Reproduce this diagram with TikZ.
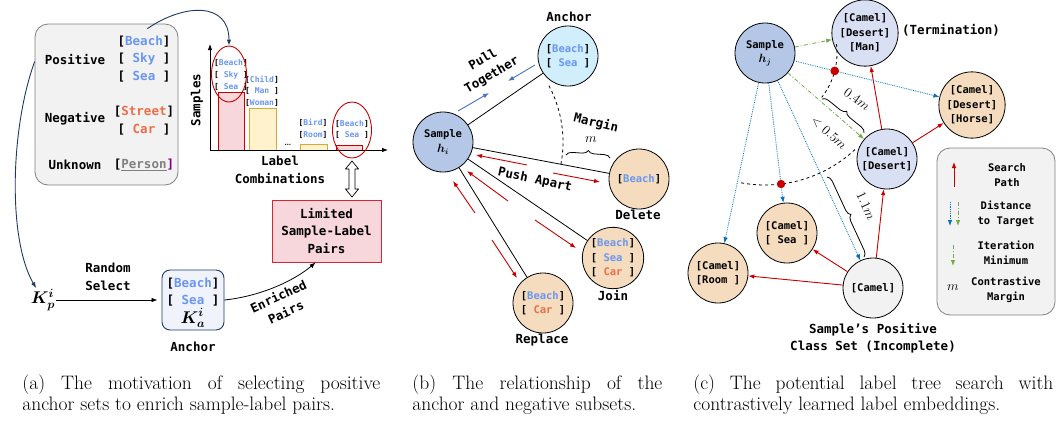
\RequirePackage{fix-cm}
\documentclass[tikz,border=0pt]{standalone}
\usepackage{fontspec}
\usepackage{bm}
\setmonofont{DejaVu Sans Mono}
\usetikzlibrary{arrows.meta,calc,shapes.geometric,decorations.pathreplacing,intersections}

\definecolor{lblue}{RGB}{105,150,240}
\definecolor{lorange}{RGB}{235,110,70}
\definecolor{navy}{RGB}{32,56,100}
\definecolor{smpfill}{RGB}{180,199,231}
\definecolor{ancfill}{RGB}{208,238,252}
\definecolor{wheat}{RGB}{246,220,190}
\definecolor{lav}{RGB}{218,224,243}
\definecolor{boxgray}{RGB}{242,242,242}
\definecolor{srch}{RGB}{200,0,0}
\definecolor{dist}{RGB}{0,112,192}
\definecolor{itgreen}{RGB}{112,173,71}
\definecolor{pinkfill}{RGB}{248,215,220}
\definecolor{pinkline}{RGB}{210,40,50}
\definecolor{yelfill}{RGB}{255,242,204}
\definecolor{yelline}{RGB}{214,168,52}
\definecolor{pullblue}{RGB}{68,114,196}
\definecolor{aboxfill}{RGB}{240,242,252}

\newcommand{\pl}[1]{[\textcolor{lblue}{#1}]}
\newcommand{\nl}[1]{[\textcolor{lorange}{#1}]}
\newcommand{\tg}[1]{[#1]}

\tikzset{
  bigtxt/.style={font=\ttfamily\bfseries\fontsize{12.5}{17.5}\selectfont, align=center, inner sep=1pt},
  midtxt/.style={font=\ttfamily\bfseries\fontsize{10.5}{14.5}\selectfont, align=center, inner sep=1pt},
  tinytxt/.style={font=\ttfamily\bfseries\fontsize{8}{11.7}\selectfont, align=center, inner sep=0pt},
  mathtxt/.style={font=\fontsize{17}{20}\selectfont, inner sep=1pt},
  disttxt/.style={font=\fontsize{13.5}{15}\selectfont, inner sep=1pt},
  capt/.style={font=\fontsize{19.5}{21}\selectfont, inner sep=0pt, anchor=base west},
  graybox/.style={draw=gray, fill=boxgray, rounded corners=13pt, line width=0.8pt},
  cls/.style={circle, draw, line width=0.8pt, minimum size=60pt, inner sep=0pt, midtxt},
  navyarr/.style={navy, line width=0.9pt, ->},
  redbar/.style={draw=srch, fill=pinkfill, line width=0.9pt},
  yelbar/.style={draw=yelline, fill=yelfill, line width=0.9pt},
  pullarr/.style={pullblue, line width=0.9pt, ->},
  pusharr/.style={srch, line width=0.9pt, ->},
  distarr/.style={dist, densely dotted, line width=0.8pt, ->},
  itarr/.style={itgreen, dash pattern=on 4pt off 2pt on 1pt off 2pt, line width=0.8pt, ->},
  brc/.style={decorate, decoration={brace, amplitude=6pt}, line width=0.8pt},
}

\begin{document}
\begin{tikzpicture}[x=1pt, y=-1pt, line width=0.8pt, >={Latex[length=6pt,width=4.5pt]}]
\useasboundingbox (0,0) rectangle (1057,424);

% (a) label sets
\node[graybox, minimum width=143pt, minimum height=161pt] (lbox) at (106.5,104.5) {};
\node[bigtxt] (pos) at (75,60) {Positive};
\node[bigtxt] (posl) at (144,59) {\pl{Beach}\\\pl{~Sky~}\\\pl{~Sea~}};
\node[bigtxt] (neg) at (75,119) {Negative};
\node[bigtxt] (negl) at (144,120.5) {\nl{Street}\\\nl{~Car~}};
\node[bigtxt] (unk) at (75,165) {Unknown};
\node[bigtxt] (unkl) at (144,165) {[\textcolor{gray}{\underline{Person}}\textcolor{violet}{]}};

% (a) bar chart
\coordinate (org) at (210,150);
\draw[redbar] (218,150) rectangle (244,92);
\draw[yelbar] (249,150) rectangle (276,108);
\draw[yelbar] (300,150) rectangle (327,144);
\draw[redbar] (336,150) rectangle (362,145);
\draw[->] (org) -- (210,44);
\draw[->] (org) -- (388,150);
\node[tinytxt] (bone) at (231,75) {\pl{Beach}\\\pl{~Sky~}\\\pl{~Sea~}};
\node[tinytxt] (btwo) at (262,91) {\pl{Child}\\\pl{~Man~}\\\pl{Woman}};
\node[font=\bfseries\fontsize{8}{8}\selectfont] (dots) at (288,145) {\ldots};
\node[tinytxt] (bthree) at (313,129) {\pl{Bird}\\\pl{Room}};
\node[tinytxt] (bfour) at (352,129.5) {\pl{Beach}\\\pl{~Sea~}};
\node[ellipse, draw=srch, line width=0.9pt, minimum width=35pt, minimum height=56pt] (ellone) at (229,74) {};
\node[ellipse, draw=srch, line width=0.9pt, minimum width=39pt, minimum height=56pt] (elltwo) at (352,130) {};
\node[bigtxt, rotate=90] (ylab) at (197,100) {Samples};
\node[bigtxt] (xlab) at (280,170) {Label\\Combinations};
\node[draw=pinkline, fill=pinkfill, line width=0.9pt, minimum width=109pt, minimum height=62pt, bigtxt] (lim) at (326.5,231) {Limited\\Sample-Label\\Pairs};
% hollow double arrow between ellipse and box
\draw[fill=white, line width=0.7pt] (352,161) -- (358.5,169) -- (355,169) -- (355,189) -- (358.5,189)
  -- (352,197) -- (345.5,189) -- (349,189) -- (349,169) -- (345.5,169) -- cycle;

% (a) anchor selection
\node[mathtxt] (kp) at (43,300) {$\bm{K_p^i}$};
\node[bigtxt] (rsel) at (108,277) {Random\\Select};
\node[draw=navy, fill=aboxfill, rounded corners=8pt, minimum width=62pt, minimum height=60pt, line width=0.9pt] (abox) at (193,300) {};
\node[bigtxt] (aboxl) at (193,292) {\pl{Beach}\\\pl{~Sea~}};
\node[mathtxt] (ka) at (193,318) {$\bm{K_a^i}$};
\node[bigtxt] (alab) at (193,347) {Anchor};
\draw[navyarr] ($(lbox.north east)+(-31,5)$) .. controls (185,3) and (229,2) .. (ellone.north);
\draw[navyarr] ($(lbox.north west)+(0,38)$) .. controls (10,130) and (8,240) .. (kp.120);
\draw[->, shorten >=4pt] (kp.east) -- (abox.west);
\draw[->] (abox.east) .. controls (262,296) and (295,280) .. ($(lim.south west)+(44,0)$);
\node[bigtxt, rotate=25] (enr) at (282,304) {Enriched\\Pairs};

% (b) anchor and negatives
\node[cls, fill=smpfill] (smp) at (443,142) {Sample\\{\fontsize{12}{14}\selectfont$\bm{h_i}$}};
\node[cls, fill=ancfill] (anc) at (568,56) {\pl{Beach}\\\pl{~Sea~}};
\node[cls, fill=wheat] (del) at (639,179) {\pl{Beach}};
\node[cls, fill=wheat] (join) at (613,258) {\pl{Beach}\\\pl{~Sea~}\\\nl{~Car~}};
\node[cls, fill=wheat] (repl) at (543,303) {\pl{Beach}\\\nl{~Car~}};
\node[bigtxt] (anclab) at (569,17) {Anchor};
\node[bigtxt] (dellab) at (638,215) {Delete};
\node[bigtxt] (joinlab) at (613,295) {Join};
\node[bigtxt] (repllab) at (542,340) {Replace};
\draw (smp) -- (anc);
\draw (smp) -- (del);
\draw (smp) -- (join);
\draw (smp) -- (repl);
\draw[pullarr] (458,111) -- (489,93);
\draw[pullarr] (535,65) -- (508,81);
\node[bigtxt, rotate=30] (pull) at (487.5,67.5) {Pull\\Together};
\draw[pusharr] (527,165) -- (476,155);
\draw[pusharr] (553,173) -- (600,182);
\draw[pusharr] (508,201) -- (467,171);
\draw[pusharr] (535,220) -- (576,248);
\draw[pusharr] (475,213) -- (453,181);
\draw[pusharr] (492,240) -- (517,278);
\node[bigtxt, rotate=-12] (push) at (535,180) {Push Apart};
\draw[dashed] plot[domain=-28:11, samples=30] ({443+120*cos(\x)},{142+120*sin(\x)});
\draw[brc] (566,155) -- (610,158);
\node[disttxt] (mb) at (591,140) {$m$};
\node[bigtxt, rotate=-13] (marg) at (596,123) {Margin};

% (c) label tree search
\node[cls, fill=smpfill] (smpj) at (765,53) {Sample\\{\fontsize{12}{14}\selectfont$\bm{h_j}$}};
\node[cls, fill=lav] (term) at (865,33) {\tg{Camel}\\\tg{Desert}\\\tg{Man}};
\node[cls, fill=wheat] (horse) at (972,105) {\tg{Camel}\\\tg{Desert}\\\tg{Horse}};
\node[cls, fill=lav] (desert) at (887,159) {\tg{Camel}\\\tg{Desert}};
\node[cls, fill=wheat] (sea) at (787,233) {\tg{Camel}\\\tg{~Sea~}};
\node[cls, fill=wheat] (room) at (718,273) {\tg{Camel}\\\tg{Room~}};
\node[cls, fill=boxgray] (camel) at (873,288) {\tg{Camel}};
\node[bigtxt] (termlab) at (951,30) {(Termination)};
\node[bigtxt] (setlab) at (873,338) {Sample’s Positive\\Class Set (Incomplete)};
\draw[dashed, name path=arcone] plot[domain=-7:38, samples=30] ({765+72*cos(\x)},{53+72*sin(\x)});
\draw[dashed, name path=arctwo] plot[domain=47:101, samples=40] ({765+132*cos(\x)},{53+132*sin(\x)});
\draw[pusharr] (camel) -- (room);
\draw[pusharr] (camel) -- (sea);
\draw[pusharr] (camel) -- (desert);
\draw[pusharr] (desert) -- (term);
\draw[pusharr] (desert) -- (horse);
\draw[distarr, name path=lhorse] (smpj.-15) -- (horse);
\draw[distarr, name path=lroom] (smpj) -- (room);
\draw[distarr, name path=lsea] (smpj) -- (sea);
\draw[distarr] (smpj) -- (camel);
\draw[itarr] (smpj) -- (term);
\draw[itarr] (smpj) -- (desert);
\fill[srch, name intersections={of=arcone and lhorse, by=dh}] (dh) circle (4.2);
\fill[srch, name intersections={of=arctwo and lroom, by=dr}] (dr) circle (4.2);
\fill[srch, name intersections={of=arctwo and lsea, by=ds}] (ds) circle (4.2);
\draw[brc] (822,99) -- (864,133);
\node[disttxt, rotate=-36] (dfour) at (857,99) {$0.4m$};
\node[disttxt, rotate=-42] (dfive) at (829,133) {$<0.5m$};
\draw[brc] (827,177) -- (864,257);
\node[disttxt, rotate=-65] (delev) at (866,206) {$1.1m$};

% (c) legend
\node[graybox, minimum width=118pt, minimum height=167pt] (leg) at (996,231.5) {};
\draw[pusharr] (954,187) -- (954,162);
\draw[distarr] (950,202) -- (950,226);
\draw[itarr] (958,202) -- (958,226);
\draw[itarr] (953,245) -- (953,266);
\node[disttxt] (legm) at (953,288) {$m$};
\node[midtxt] (legone) at (1007,175) {Search\\Path};
\node[midtxt] (legtwo) at (1006,214) {Distance\\to Target};
\node[midtxt] (legthree) at (1006,253) {Iteration\\Minimum};
\node[midtxt] (legfour) at (1006,290) {Contrastive\\Margin};

% captions
\node[capt] (capaone) at (22,389) {\makebox[358pt][s]{(a) The motivation of selecting positive}};
\node[capt] (capatwo) at (22,410) {anchor sets to enrich sample-label pairs.};
\node[capt] (capbone) at (412,389) {\makebox[250pt][s]{(b) The relationship of the}};
\node[capt] (capbtwo) at (412,410) {anchor and negative subsets.};
\node[capt] (capcone) at (693,389) {\makebox[360pt][s]{(c) The potential label tree search with}};
\node[capt] (capctwo) at (693,410) {contrastively learned label embeddings.};
\end{tikzpicture}
\end{document}
